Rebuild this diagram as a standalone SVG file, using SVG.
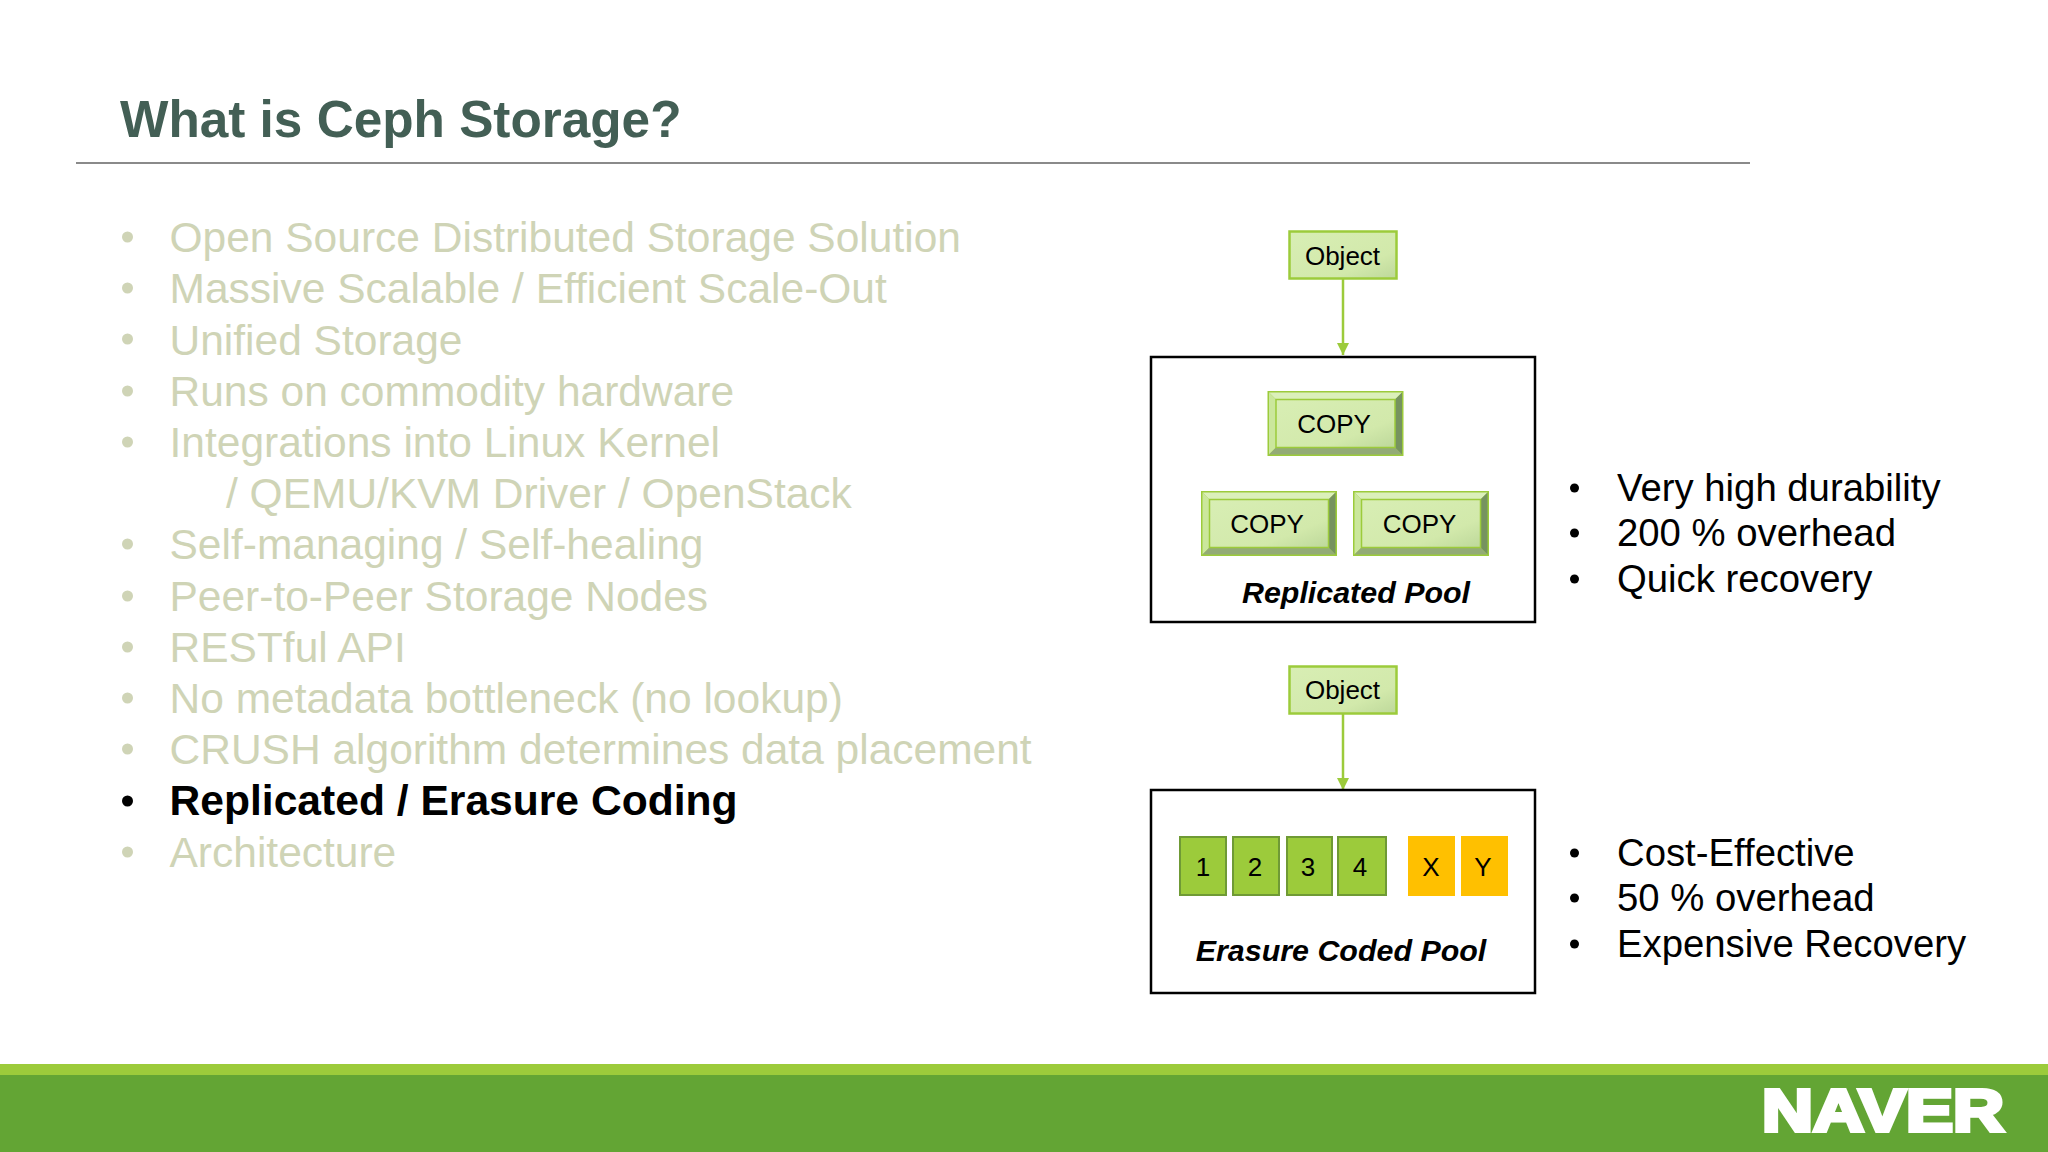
<svg xmlns="http://www.w3.org/2000/svg" width="2048" height="1152" viewBox="0 0 2048 1152">
<style>
text{font-family:"Liberation Sans",Arial,sans-serif}
.title{font-size:51.3px;font-weight:700;fill:#435f55}
.b{font-size:42.5px;fill:#cfd4b6}
.dot{fill:#cfd4b6}
.cur{font-size:42.6px;font-weight:700;fill:#000}
.r{font-size:38.3px;fill:#000}
.l{font-size:26px;fill:#000;text-anchor:middle}
.it{font-size:30.4px;font-weight:700;font-style:italic;fill:#000;text-anchor:middle}
.pool{fill:#fff;stroke:#000;stroke-width:2.5}
.obj{fill:url(#g);stroke:#9ccb3b;stroke-width:2.5}
.face{fill:url(#g);stroke:#9ccb3b;stroke-width:1.5}
.sq{fill:#9ccb3b;stroke:#6f9a35;stroke-width:2}
.par{fill:#ffc000}
.conn{stroke:#9ccb3b;stroke-width:2.5;fill:none;marker-end:url(#a)}
</style>
<defs>
<linearGradient id="g" x1="0" y1="0" x2="1" y2="1"><stop offset="0" stop-color="#d8eeb4"/><stop offset=".7" stop-color="#d2e9ab"/><stop offset="1" stop-color="#bdd89a"/></linearGradient>
<marker id="a" markerUnits="userSpaceOnUse" markerWidth="14" markerHeight="14" refX="12" refY="6" orient="auto"><path d="M0 0L12 6L0 12Z" fill="#9ccb3b"/></marker>
<g id="bev">
<rect x="0" y="0" width="136" height="65" fill="#9ccb3b"/>
<path d="M1.500 1.500H134.500L127 9H9Z" fill="#dbf0ba"/>
<path d="M1.500 1.500L9 9V56L1.500 63.500Z" fill="#cbe79c"/>
<path d="M134.500 1.500L127 9V56L134.500 63.500Z" fill="#76935f"/>
<path d="M1.500 63.500L9 56H127L134.500 63.500Z" fill="#93ab76"/>
<rect class="face" x="8.500" y="8.500" width="119" height="48"/>
</g>
</defs>
<rect width="2048" height="1152" fill="#fff"/>
<g id="header">
<text class="title" x="120" y="137">What is Ceph Storage?</text>
<rect x="76" y="162" width="1674" height="2" fill="#8a8a8a"/>
</g>
<g id="bullets">
<g class="dot">
<circle cx="127.500" cy="237" r="5.500"/><circle cx="127.500" cy="288" r="5.500"/><circle cx="127.500" cy="339" r="5.500"/><circle cx="127.500" cy="391" r="5.500"/><circle cx="127.500" cy="442" r="5.500"/><circle cx="127.500" cy="544" r="5.500"/><circle cx="127.500" cy="596" r="5.500"/><circle cx="127.500" cy="647" r="5.500"/><circle cx="127.500" cy="698" r="5.500"/><circle cx="127.500" cy="749" r="5.500"/><circle cx="127.500" cy="852" r="5.500"/>
</g>
<circle cx="127.500" cy="801" r="5.500" fill="#000"/>
<text class="b" x="169.500" y="252">Open Source Distributed Storage Solution</text>
<text class="b" x="169.500" y="303">Massive Scalable / Efficient Scale-Out</text>
<text class="b" x="169.500" y="355">Unified Storage</text>
<text class="b" x="169.500" y="406">Runs on commodity hardware</text>
<text class="b" x="169.500" y="457">Integrations into Linux Kernel</text>
<text class="b" x="226" y="508">/ QEMU/KVM Driver / OpenStack</text>
<text class="b" x="169.500" y="559">Self-managing / Self-healing</text>
<text class="b" x="169.500" y="611">Peer-to-Peer Storage Nodes</text>
<text class="b" x="169.500" y="662">RESTful API</text>
<text class="b" x="169.500" y="713">No metadata bottleneck (no lookup)</text>
<text class="b" x="169.500" y="764">CRUSH algorithm determines data placement</text>
<text class="cur" x="169.500" y="815">Replicated / Erasure Coding</text>
<text class="b" x="169.500" y="867">Architecture</text>
</g>
<g id="connectors">
<path class="conn" d="M1343 279V355"/>
<path class="conn" d="M1343 714V790"/>
</g>
<g id="replicated-pool">
<rect class="pool" x="1151" y="357" width="384" height="265"/>
<text class="it" x="1356" y="603">Replicated Pool</text>
</g>
<g id="object-1"><rect class="obj" x="1289.500" y="231.500" width="107" height="47"/><text class="l" x="1342.500" y="265">Object</text></g>
<g id="copy-1"><use href="#bev" x="1267.500" y="391"/><text class="l" x="1334" y="433">COPY</text></g>
<g id="copy-2"><use href="#bev" x="1201" y="491"/><text class="l" x="1267" y="533">COPY</text></g>
<g id="copy-3"><use href="#bev" x="1353" y="491"/><text class="l" x="1419.500" y="533">COPY</text></g>
<g id="erasure-pool">
<rect class="pool" x="1151" y="790" width="384" height="203"/>
<text class="it" x="1341" y="961">Erasure Coded Pool</text>
</g>
<g id="object-2"><rect class="obj" x="1289.500" y="666.500" width="107" height="47"/><text class="l" x="1342.500" y="699">Object</text></g>
<g id="s1"><rect class="sq" x="1180" y="837" width="46" height="58"/><text class="l" x="1203" y="876">1</text></g>
<g id="s2"><rect class="sq" x="1233" y="837" width="46" height="58"/><text class="l" x="1255" y="876">2</text></g>
<g id="s3"><rect class="sq" x="1287" y="837" width="45" height="58"/><text class="l" x="1308" y="876">3</text></g>
<g id="s4"><rect class="sq" x="1338" y="837" width="48" height="58"/><text class="l" x="1360" y="876">4</text></g>
<g id="sx"><rect class="par" x="1408" y="836" width="47" height="60"/><text class="l" x="1431" y="876">X</text></g>
<g id="sy"><rect class="par" x="1461" y="836" width="47" height="60"/><text class="l" x="1483" y="876">Y</text></g>
<g id="notes-1">
<circle cx="1574.500" cy="488" r="4.500"/><circle cx="1574.500" cy="533" r="4.500"/><circle cx="1574.500" cy="579" r="4.500"/>
<text class="r" x="1617" y="501">Very high durability</text>
<text class="r" x="1617" y="546">200 % overhead</text>
<text class="r" x="1617" y="592">Quick recovery</text>
</g>
<g id="notes-2">
<circle cx="1574.500" cy="853" r="4.500"/><circle cx="1574.500" cy="898" r="4.500"/><circle cx="1574.500" cy="944" r="4.500"/>
<text class="r" x="1617" y="866">Cost-Effective</text>
<text class="r" x="1617" y="911">50 % overhead</text>
<text class="r" x="1617" y="957">Expensive Recovery</text>
</g>
<g id="footer">
<rect y="1064" width="2048" height="11" fill="#9ccb3b"/>
<rect y="1075" width="2048" height="77" fill="#63a534"/>
<text x="1762" y="1130.500" font-size="60" font-weight="700" fill="#fff" stroke="#fff" stroke-width="4" textLength="242" lengthAdjust="spacingAndGlyphs">NAVER</text>
</g>
</svg>
